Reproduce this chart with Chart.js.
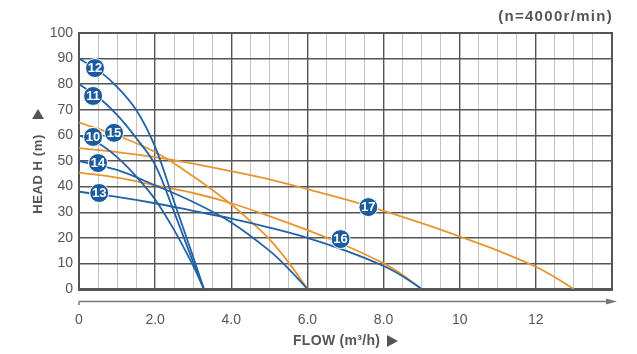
<!DOCTYPE html>
<html>
<head>
<meta charset="utf-8">
<script src="https://cdn.jsdelivr.net/npm/chart.js@4.4.0/dist/chart.umd.min.js"></script>
<style>
    html, body { margin: 0; padding: 0; background: #fff; }
    #wrap { width: 637px; height: 354px; }
</style>
</head>
<body>
<div id="wrap"><canvas id="pumpChart" width="637" height="354"></canvas></div>
<script>
'use strict';

// Pumpekurver: flow (m³/h) og løftehøjde (m)
const flow10 = [0, 0.5, 1, 1.5, 2, 2.5, 3, 3.28];
const head10 = [60, 57, 51.5, 44, 35, 23, 9, 0];
const flow11 = [0, 0.5, 1, 1.5, 2, 2.5, 3, 3.28];
const head11 = [80, 75, 68, 59, 48.5, 30, 10.5, 0];
const flow12 = [0, 0.5, 1, 1.5, 2, 2.5, 3, 3.28];
const head12 = [90, 85.5, 79, 70, 55.5, 34, 12.5, 0];
const flow13 = [0, 1, 2, 3, 4, 5, 6, 7, 8, 8.5, 9];
const head13 = [38, 36, 33.5, 30.5, 27.5, 24, 20, 15, 9, 5, 0];
const flow14 = [0, 1, 2, 3, 4, 5, 5.5, 6];
const head14 = [50, 46.5, 40.5, 34, 26, 15, 8, 0];
const flow15 = [0, 1, 2, 3, 4, 4.5, 5, 5.5, 6];
const head15 = [65, 60, 53.5, 44, 33, 26.5, 19.5, 10.5, 0];
const flow16 = [0, 1, 2, 3, 4, 5, 6, 7, 8, 8.5, 9];
const head16 = [45.5, 43.5, 40.5, 37.5, 33.5, 28.5, 23, 17, 10, 5.5, 0];
const flow17 = [0, 1, 2, 3, 4, 5, 6, 7, 8, 9, 10, 11, 12, 12.5, 13];
const head17 = [55, 53.5, 51.5, 49, 46, 42.8, 39, 35, 30.5, 25.7, 20.5, 15, 8.7, 4.6, 0];

// Nummererede mærker på kurverne
const markerNames = ['12', '11', '10', '15', '14', '13', '16', '17'];
const markerFlow = [0.42, 0.37, 0.37, 0.92, 0.5, 0.53, 6.87, 7.6];
const markerHead = [86.3, 75.4, 59.4, 61, 49.2, 37.5, 19.5, 32];

// Aksernes etiketter
const xTickValues = [0, 2, 4, 6, 8, 10, 12];
const xTickLabels = ['0', '2.0', '4.0', '6.0', '8.0', '10', '12'];

const BLUE = '#2262a6';
const ORANGE = '#e8952f';
const MARK = '#1a5c9f';
const TEXT = '#555';

function toPoints(xs, ys) {
    return xs.map((x, i) => ({ x: x, y: ys[i] }));
}

function curve(xs, ys, color) {
    return {
        type: 'line',
        data: toPoints(xs, ys),
        borderColor: color,
        borderWidth: 1.8,
        pointRadius: 0,
        fill: false,
        tension: 0.35,
        order: 1
    };
}

// Ramme, titler og pil på x-aksen
const decorPlugin = {
    id: 'decor',
    beforeDatasetsDraw(chart) {
        const a = chart.chartArea;
        const ctx = chart.ctx;
        ctx.save();
        ctx.strokeStyle = '#555';
        ctx.lineWidth = 2;
        ctx.strokeRect(a.left, a.top, a.right - a.left, a.bottom - a.top);
        ctx.lineWidth = 3;
        ctx.beginPath();
        ctx.moveTo(a.left - 1, a.bottom + 0.5);
        ctx.lineTo(a.right + 1, a.bottom + 0.5);
        ctx.stroke();
        ctx.restore();
    },
    afterDraw(chart) {
        const a = chart.chartArea;
        const ctx = chart.ctx;
        ctx.save();
        ctx.fillStyle = TEXT;
        ctx.strokeStyle = '#777';

        // pil under plottet
        ctx.lineWidth = 1.5;
        ctx.beginPath();
        ctx.moveTo(a.left, 301.5);
        ctx.lineTo(610, 301.5);
        ctx.moveTo(a.left, 301.5);
        ctx.lineTo(a.left, 305);
        ctx.stroke();
        ctx.fillStyle = '#777';
        ctx.beginPath();
        ctx.moveTo(617, 301.5);
        ctx.lineTo(606, 298.5);
        ctx.lineTo(606, 304.5);
        ctx.closePath();
        ctx.fill();

        ctx.fillStyle = TEXT;
        ctx.textBaseline = 'middle';

        // omdrejningstal
        ctx.font = 'bold 15px "Liberation Sans", Arial, sans-serif';
        ctx.letterSpacing = '1.3px';
        ctx.textAlign = 'right';
        ctx.fillText('(n=4000r/min)', 613, 17);

        // x-akse titel
        ctx.font = 'bold 14px "Liberation Sans", Arial, sans-serif';
        ctx.letterSpacing = '0.3px';
        ctx.textAlign = 'left';
        ctx.fillText('FLOW (m³/h)', 293, 341);
        ctx.beginPath();
        ctx.moveTo(387, 335);
        ctx.lineTo(398, 341);
        ctx.lineTo(387, 347);
        ctx.closePath();
        ctx.fill();

        // y-akse titel
        ctx.save();
        ctx.translate(38, 174);
        ctx.rotate(-Math.PI / 2);
        ctx.font = 'bold 13px "Liberation Sans", Arial, sans-serif';
        ctx.letterSpacing = '0.6px';
        ctx.textAlign = 'center';
        ctx.fillText('HEAD H (m)', 0, 0);
        ctx.restore();
        ctx.beginPath();
        ctx.moveTo(38, 109);
        ctx.lineTo(44, 119);
        ctx.lineTo(32, 119);
        ctx.closePath();
        ctx.fill();
        ctx.restore();
    }
};

// Tal i de blå cirkler
const markerTextPlugin = {
    id: 'markerText',
    afterDatasetsDraw(chart) {
        const meta = chart.getDatasetMeta(0);
        const ctx = chart.ctx;
        ctx.save();
        ctx.fillStyle = '#fff';
        ctx.font = 'bold 13px "Liberation Sans", Arial, sans-serif';
        ctx.textAlign = 'center';
        ctx.textBaseline = 'middle';
        meta.data.forEach((pt, i) => {
            ctx.fillText(markerNames[i], pt.x, pt.y + 0.5);
        });
        ctx.restore();
    }
};

function initPumpChart() {
    const ctx = document.getElementById('pumpChart').getContext('2d');

    new Chart(ctx, {
        type: 'scatter',
        data: {
            datasets: [
                {
                    type: 'scatter',
                    data: toPoints(markerFlow, markerHead),
                    backgroundColor: MARK,
                    borderColor: '#fff',
                    borderWidth: 1,
                    pointRadius: 9.5,
                    order: 0
                },
                curve(flow12, head12, BLUE),
                curve(flow11, head11, BLUE),
                curve(flow10, head10, BLUE),
                curve(flow14, head14, BLUE),
                curve(flow13, head13, BLUE),
                curve(flow15, head15, ORANGE),
                curve(flow16, head16, ORANGE),
                curve(flow17, head17, ORANGE)
            ]
        },
        options: {
            responsive: false,
            animation: false,
            layout: { padding: { left: 0, right: 25, top: 33, bottom: 0 } },
            plugins: {
                legend: { display: false },
                tooltip: { enabled: false }
            },
            scales: {
                x: {
                    type: 'linear',
                    min: 0,
                    max: 14,
                    afterFit: function(scale) { scale.height = 65; },
                    border: { display: false },
                    grid: {
                        drawTicks: false,
                        color: function(c) {
                            return c.tick.value % 2 === 0 ? '#555' : '#c4c4c4';
                        },
                        lineWidth: function(c) {
                            return c.tick.value % 2 === 0 ? 1.4 : 1;
                        }
                    },
                    ticks: {
                        stepSize: 0.5,
                        autoSkip: false,
                        maxRotation: 0,
                        padding: 23,
                        color: TEXT,
                        font: { family: '"Liberation Sans", Arial, sans-serif', size: 14 },
                        callback: function(value) {
                            const i = xTickValues.indexOf(value);
                            return i >= 0 ? xTickLabels[i] : '';
                        }
                    }
                },
                y: {
                    min: 0,
                    max: 100,
                    afterFit: function(scale) { scale.width = 79; },
                    border: { display: false },
                    grid: { drawTicks: false, color: '#555', lineWidth: 1.4 },
                    ticks: {
                        stepSize: 10,
                        padding: 6,
                        color: TEXT,
                        font: { family: '"Liberation Sans", Arial, sans-serif', size: 14 }
                    }
                }
            }
        },
        plugins: [decorPlugin, markerTextPlugin]
    });
}

initPumpChart();
</script>
</body>
</html>
